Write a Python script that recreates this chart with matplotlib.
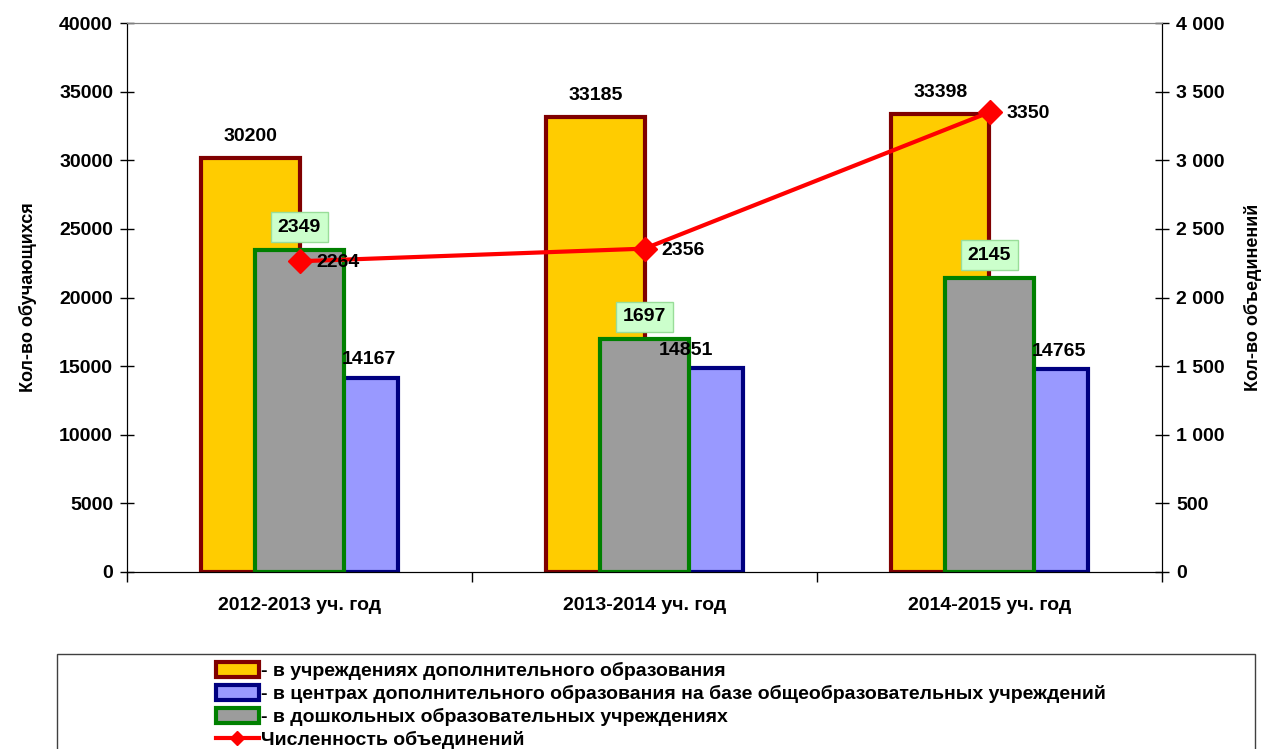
import matplotlib
matplotlib.use('Agg')
import matplotlib.pyplot as plt
import numpy as np
from matplotlib.patches import Patch, Rectangle
from matplotlib.lines import Line2D
from matplotlib.ticker import FuncFormatter

plt.rcParams['font.family'] = ['Liberation Sans', 'DejaVu Sans']
plt.rcParams['font.weight'] = 'bold'

# data
years = ['2012-2013 уч. год', '2013-2014 уч. год', '2014-2015 уч. год']
dop_obr = [30200, 33185, 33398]          # в учреждениях доп. образования
centers = [14167, 14851, 14765]          # в центрах доп. образования
preschool = [2349, 1697, 2145]           # в дошкольных учреждениях (правая ось)
groups = [2264, 2356, 3350]              # численность объединений (правая ось)

legend_labels = ['- в учреждениях дополнительного образования',
                 '- в центрах дополнительного образования на базе общеобразовательных учреждений',
                 '- в дошкольных образовательных учреждениях',
                 'Численность объединений']

FS = 14

fig = plt.figure(figsize=(12.67, 7.49), dpi=100)
ax = fig.add_axes([127/1267, 1-572/749, (1162-127)/1267, (572-23)/749])
ax2 = ax.twinx()

x = np.arange(len(years))
w = 0.285

ax.bar(x - w/2, dop_obr, width=w, color='#FFCC00', edgecolor='#800000', linewidth=3)
ax.bar(x + w/2, centers, width=w, color='#9999FF', edgecolor='#000080', linewidth=3)
ax2.bar(x, preschool, width=0.26, color='#9C9C9C', edgecolor='#008000', linewidth=3, zorder=2)
ax2.plot(x, groups, color='#FF0000', lw=3, marker='D', markersize=12, zorder=3)

# value labels (drawn on ax2 so they sit above everything)
for i in range(len(x)):
    ax2.annotate(str(dop_obr[i]), (x[i] - w/2, dop_obr[i]), xycoords=ax.transData,
                 xytext=(0, 15), textcoords='offset points',
                 ha='center', va='center', fontsize=FS, fontweight='bold', zorder=5)
    off = 0.2 if i != 1 else 0.12
    ax2.annotate(str(centers[i]), (x[i] + off, centers[i]), xycoords=ax.transData,
                 xytext=(0, 13), textcoords='offset points',
                 ha='center', va='center', fontsize=FS, fontweight='bold', zorder=5)
    ax2.annotate(str(preschool[i]), (x[i], preschool[i]), xytext=(0, 16), textcoords='offset points',
                 ha='center', va='center', fontsize=FS, fontweight='bold', zorder=5,
                 bbox=dict(boxstyle='square,pad=0.33', facecolor='#CCFFCC', edgecolor='#99DD99', lw=1))
    ax2.annotate(str(groups[i]), (x[i], groups[i]), xytext=(12, -1), textcoords='offset points',
                 ha='left', va='center', fontsize=FS, fontweight='bold', zorder=5)

ax.set_xlim(-0.5, 2.5)
ax.set_ylim(0, 40000)
ax2.set_ylim(0, 4000)
ax.set_yticks(np.arange(0, 40001, 5000))
ax2.set_yticks(np.arange(0, 4001, 500))
ax2.yaxis.set_major_formatter(FuncFormatter(lambda v, p: f'{int(v):,}'.replace(',', ' ')))

ax.set_xticks(x)
ax.set_xticklabels(years, fontsize=FS, fontweight='bold')
ax.set_xticks(np.arange(-0.5, 2.6, 1), minor=True)
ax.tick_params(axis='x', which='major', length=0, pad=18)
ax.tick_params(axis='x', which='minor', length=7, direction='out', width=1)
ax.tick_params(axis='y', direction='inout', length=10, width=1, labelsize=FS, pad=5)
ax2.tick_params(axis='y', direction='inout', length=10, width=1, labelsize=FS, pad=5)
for lab in ax.get_yticklabels() + ax2.get_yticklabels():
    lab.set_fontweight('bold')

ax.set_ylabel('Кол-во обучающихся', fontsize=13, fontweight='bold', labelpad=16)
ax2.set_ylabel('Кол-во объединений', fontsize=13, fontweight='bold', labelpad=14)

for a in (ax, ax2):
    a.spines['top'].set_color('#808080')
    a.spines['left'].set_color('black')
    a.spines['right'].set_color('black')
    a.spines['bottom'].set_color('black')

# legend
handles = [Patch(facecolor='#FFCC00', edgecolor='#800000', lw=3),
           Patch(facecolor='#9999FF', edgecolor='#000080', lw=3),
           Patch(facecolor='#9C9C9C', edgecolor='#008000', lw=3),
           Line2D([0], [0], color='#FF0000', lw=3, marker='D', markersize=7)]
fig.legend(handles, legend_labels, loc='upper left', bbox_to_anchor=(206/1267, 1-652/749),
           frameon=False, prop={'weight': 'bold', 'size': FS}, borderpad=0,
           handlelength=2.2, handleheight=0.8, labelspacing=0.25, handletextpad=0.15)
fig.patches.append(Rectangle((57/1267, -0.1), (1255-57)/1267, 0.1 + 1-654/749,
                             transform=fig.transFigure, fill=False, edgecolor='#404040', lw=1))

fig.savefig('out.png', dpi=100)
